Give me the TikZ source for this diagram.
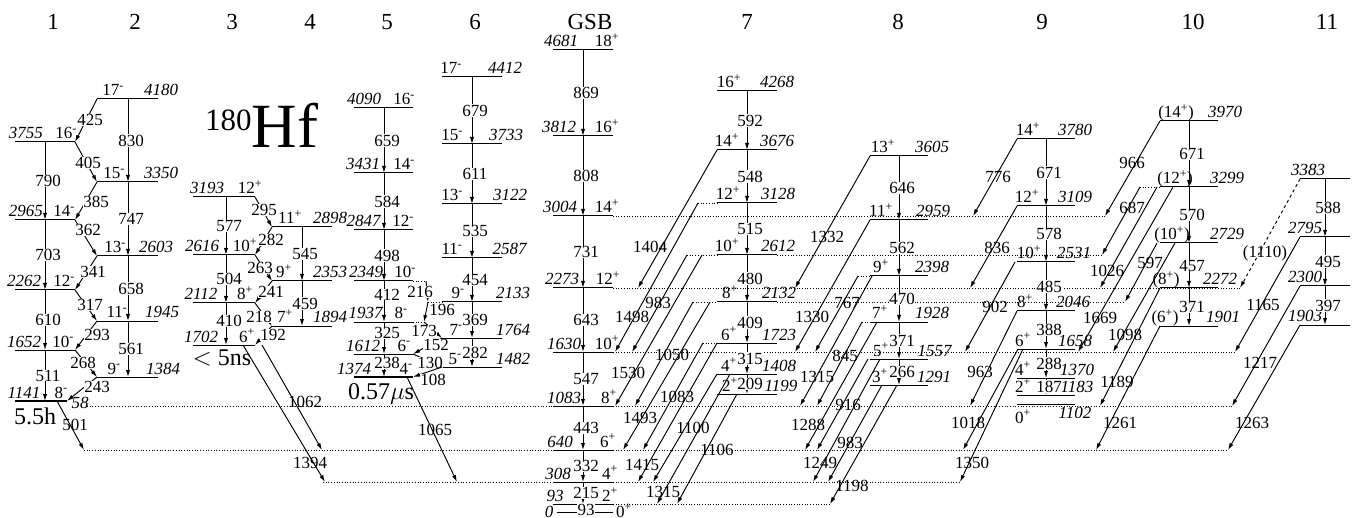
\documentclass[tikz,border=0pt]{standalone}
\usepackage{fontspec}
\setmainfont{Liberation Serif}
\usetikzlibrary{arrows.meta}

\newcommand{\Ei}[1]{\textit{#1}}
\newcommand{\Jp}[1]{#1\textsuperscript{+}}
\newcommand{\Jm}[1]{#1\textsuperscript{-}}

\tikzset{
  lev/.style     = {line width=1pt},
  isolev/.style  = {line width=2.8pt},
  ext/.style     = {dotted, line width=0.7pt},
  gam/.style     = {-{Latex[length=7pt,width=4.2pt]}, line width=0.95pt},
  lvlab/.style   = {font=\fontsize{17}{17}\selectfont, inner sep=0pt, anchor=base},
  glab/.style    = {font=\fontsize{17}{17}\selectfont, inner sep=0.3pt, fill=white},
  dlab/.style    = {font=\fontsize{17}{17}\selectfont, inner sep=0pt},
  colhead/.style = {font=\fontsize{23}{23}\selectfont, inner sep=0pt},
  life/.style    = {font=\fontsize{24}{24}\selectfont, inner sep=0pt},
}

\begin{document}
\begin{tikzpicture}[x=1pt, y=-1pt]
\useasboundingbox (0,0) rectangle (1356,518);

% axes of the bands
\foreach \c/\x in {xA/45, xB/128, xC/226, xD/302, xE/384, xF/472,
                   xG/583, xH/747, xK/899, xM/1046, xN/1189, xP/1325}
  \coordinate (\c) at (\x,0);

% column headings
\foreach \t/\x in {1/53, 2/135, 3/232, 4/310, 5/387, 6/475, GSB/590,
                   7/747, 8/898, 9/1042, 10/1193, 11/1327}
  \node[colhead] (col\t) at (\x,22) {\t};

\node[anchor=base west, inner sep=0pt] (nucl) at (205,148)
  {\raisebox{17pt}{\fontsize{31}{31}\selectfont 180}\fontsize{63}{63}\selectfont Hf};

% levels
\foreach \n/\xa/\xb/\y/\lx/\lt/\rx/\rt in {
  a16/15/75/142/26/{\Ei{3755}}/66/{\Jm{16}},
  a14/15/75/220/26/{\Ei{2965}}/64/{\Jm{14}},
  a12/15/75/290/24/{\Ei{2262}}/64/{\Jm{12}},
  a10/15/75/350/24/{\Ei{1652}}/63/{\Jm{10}},
  b17/97/158/99/113/{\Jm{17}}/161/{\Ei{4180}},
  b15/97/158/182/114/{\Jm{15}}/161/{\Ei{3350}},
  b13/97/158/256/115/{\Jm{13}}/156/{\Ei{2603}},
  b11/97/158/321/117/{\Jm{11}}/162/{\Ei{1945}},
  b9/97/158/377/114/{\Jm{9}}/163/{\Ei{1384}},
  c12/193/255/197/207/{\Ei{3193}}/250/{\Jp{12}},
  c10/193/255/255/202/{\Ei{2616}}/245/{\Jp{10}},
  c8/193/255/303/201/{\Ei{2112}}/245/{\Jp{8}},
  c6/193/255/345/201/{\Ei{1702}}/247/{\Jp{6}},
  d11/272/332/227/290/{\Jp{11}}/330/{\Ei{2898}},
  d9/272/332/281/284/{\Jp{9}}/330/{\Ei{2353}},
  d7/272/332/326/285/{\Jp{7}}/330/{\Ei{1894}},
  e16/354/413/108/364/{\Ei{4090}}/404/{\Jm{16}},
  e14/354/413/173/363/{\Ei{3431}}/404/{\Jm{14}},
  e12/354/413/230/364/{\Ei{2847}}/403/{\Jm{12}},
  e10/354/413/281/366/{\Ei{2349}}/405/{\Jm{10}},
  e8/354/413/322/366/{\Ei{1937}}/401/{\Jm{8}},
  e6/354/413/354/363/{\Ei{1612}}/404/{\Jm{6}},
  f17/442/502/77/451/{\Jm{17}}/505/{\Ei{4412}},
  f15/442/502/144/452/{\Jm{15}}/506/{\Ei{3733}},
  f13/442/502/204/452/{\Jm{13}}/510/{\Ei{3122}},
  f11/442/502/258/452/{\Jm{11}}/510/{\Ei{2587}},
  f9/442/502/302/458/{\Jm{9}}/513/{\Ei{2133}},
  f7/442/502/338/456/{\Jm{7}}/513/{\Ei{1764}},
  f5/442/502/367/455/{\Jm{5}}/513/{\Ei{1482}},
  g18/553/613/50/561/{\Ei{4681}}/607/{\Jp{18}},
  g16/553/613/136/559/{\Ei{3812}}/607/{\Jp{16}},
  g14/553/613/216/560/{\Ei{3004}}/607/{\Jp{14}},
  g12/553/613/288/562/{\Ei{2273}}/608/{\Jp{12}},
  g10/553/613/352/564/{\Ei{1630}}/607/{\Jp{10}},
  g8/553/613/406/564/{\Ei{1083}}/609/{\Jp{8}},
  g6/553/613/450/560/{\Ei{640}}/608/{\Jp{6}},
  g4/553/613/482/558/{\Ei{308}}/610/{\Jp{4}},
  g2/553/613/504/555/{\Ei{93}}/610/{\Jp{2}},
  h16/717/777/91/729/{\Jp{16}}/777/{\Ei{4268}},
  h14/717/777/150/727/{\Jp{14}}/777/{\Ei{3676}},
  h12/717/777/203/728/{\Jp{12}}/778/{\Ei{3128}},
  h10/717/777/255/727/{\Jp{10}}/778/{\Ei{2612}},
  h8/717/777/302/730/{\Jp{8}}/779/{\Ei{2132}},
  h6/717/777/343/729/{\Jp{6}}/779/{\Ei{1723}},
  h4/717/777/374/729/{\Jp{4}}/779/{\Ei{1408}},
  h2/717/777/394/730/{\Jp{2}}/781/{\Ei{1199}},
  k13/870/928/156/883/{\Jp{13}}/932/{\Ei{3605}},
  k11/870/928/220/881/{\Jp{11}}/933/{\Ei{2959}},
  k9/870/928/276/881/{\Jp{9}}/932/{\Ei{2398}},
  k7/870/928/322/880/{\Jp{7}}/932/{\Ei{1928}},
  k5/870/928/359/881/{\Jp{5}}/935/{\Ei{1557}},
  k3/870/928/385/880/{\Jp{3}}/934/{\Ei{1291}},
  m14/1017/1075/139/1028/{\Jp{14}}/1075/{\Ei{3780}},
  m12/1017/1075/206/1027/{\Jp{12}}/1075/{\Ei{3109}},
  m10/1017/1075/262/1029/{\Jp{10}}/1074/{\Ei{2531}},
  m8/1017/1075/311/1025/{\Jp{8}}/1073/{\Ei{2046}},
  m6/1017/1075/349/1023/{\Jp{6}}/1075/{\Ei{1658}},
  m4/1017/1075/378/1023/{\Jp{4}}/1077/{\Ei{1370}},
  m2/1017/1075/395/1023/{\Jp{2}}/1077/{\Ei{1183}},
  n14/1160/1218/121/1176/{(\Jp{14})}/1225/{\Ei{3970}},
  n12/1160/1218/187/1175/{(\Jp{12})}/1227/{\Ei{3299}},
  n10/1160/1218/243/1172/{(\Jp{10})}/1227/{\Ei{2729}},
  n8/1160/1218/288/1166/{(\Jp{8})}/1220/{\Ei{2272}},
  n6/1160/1218/326/1165/{(\Jp{6})}/1223/{\Ei{1901}},
  p4/1300/1350/179/1308/{\Ei{3383}}/1340/{},
  p3/1300/1350/237/1305/{\Ei{2795}}/1340/{},
  p2/1300/1350/286/1305/{\Ei{2300}}/1340/{},
  p1/1300/1350/325/1305/{\Ei{1903}}/1340/{}}{
  \draw[lev] (\xa,\y) coordinate (\n) -- (\xb,\y);
  \node[lvlab] (l\n) at (\lx,\y-3) {\lt};
  \node[lvlab] (r\n) at (\rx,\y-3) {\rt};
}

% isomers and ground states
\draw[isolev] (15,401) coordinate (a8) -- (67,401);
\node[lvlab] (la8) at (24,398) {\Ei{1141}};
\node[lvlab] (ra8) at (61,398) {\Jm{8}};
\node[life] (t55h) at (35,416) {5.5h};
\node[lvlab, font=\fontsize{17}{17}\selectfont\itshape, anchor=center] (l58) at (80,403) {58};
\node[life] (t5ns) at (222,358) {$<$ 5ns};
\draw[isolev] (354,377) coordinate (e4) -- (413,377);
\node[lvlab] (le4) at (354,374) {\Ei{1374}};
\node[lvlab] (re4) at (406,374) {\Jm{4}};
\node[life] (t057) at (381,394) {0.57$\mu$s};
\draw[lev] (557,512) coordinate (g0) -- (613,512);
\node[lvlab] (lg0) at (549,517) {\Ei{0}};
\node[lvlab] (rg0) at (624,517) {\Jp{0}};
\draw[lev] (1017,404) coordinate (m0) -- (1075,404);
\node[lvlab] (lm0) at (1023,423) {\Jp{0}};
\node[lvlab] (rm0) at (1075,418) {\Ei{1102}};

% dotted continuations of levels
\foreach \a/\xa/\xb in {g14/613/1105, g12/613/1240, g10/613/1235,
    g8/87/553, g8/613/1232, g6/84/553, g6/613/1228, g4/323/553,
    g4/613/960, g2/613/830, h12/698/717, h10/687/717, h10/777/1102,
    h8/693/717, h8/777/1125, h6/703/717, k9/858/870, k7/862/870,
    n12/1140/1160, e10/413/426, f9/428/442, e8/413/424}
  \draw[ext] (\a -| \xa,0) -- (\a -| \xb,0);

% in-band transitions
\foreach \c/\a/\b/\g/\p in {
  xA/a16/a14/790/.5, xA/a14/a12/703/.5, xA/a12/a10/610/.5, xA/a10/a8/511/.5,
  xB/b17/b15/830/.5, xB/b15/b13/747/.5, xB/b13/b11/658/.5, xB/b11/b9/561/.5,
  xC/c12/c10/577/.5, xC/c10/c8/504/.5, xC/c8/c6/410/.42,
  xD/d11/d9/545/.5, xD/d9/d7/459/.5,
  xE/e16/e14/659/.5, xE/e14/e12/584/.5, xE/e12/e10/498/.5, xE/e10/e8/412/.33,
  xE/e8/e6/325/.35, xE/e6/e4/238/.4,
  xF/f17/f15/679/.5, xF/f15/f13/611/.5, xF/f13/f11/535/.5, xF/f11/f9/454/.5,
  xF/f9/f7/369/.5, xF/f7/f5/282/.5,
  xG/g18/g16/869/.5, xG/g16/g14/808/.5, xG/g14/g12/731/.5, xG/g12/g10/643/.5,
  xG/g10/g8/547/.5, xG/g8/g6/443/.5, xG/g6/g4/332/.5, xG/g4/g2/215/.5,
  xH/h16/h14/592/.5, xH/h14/h12/548/.5, xH/h12/h10/515/.5, xH/h10/h8/480/.5,
  xH/h8/h6/409/.5, xH/h6/h4/315/.5, xH/h4/h2/209/.5,
  xK/k13/k11/646/.5, xK/k11/k9/562/.5, xK/k9/k7/470/.5, xK/k7/k5/371/.5,
  xK/k5/k3/266/.5,
  xM/m14/m12/671/.5, xM/m12/m10/578/.5, xM/m10/m8/485/.5, xM/m8/m6/388/.5,
  xM/m6/m4/288/.5, xM/m4/m2/187/.5,
  xN/n14/n12/671/.5, xN/n12/n10/570/.5, xN/n10/n8/457/.5, xN/n8/n6/371/.5,
  xP/p4/p3/588/.5, xP/p3/p2/495/.5, xP/p2/p1/397/.5}
  \draw[gam] (\a -| \c) -- (\b -| \c) node[glab, pos=\p, xshift=3pt] (v\g) {\g};
\draw[gam] (g2 -| xG) -- (g0 -| xG);
\node[glab] (v93) at (586,510) {93};

% transitions between neighbouring bands
\foreach \a/\xa/\b/\xb/\g/\lx/\ly in {
  b17/97/a16/75/425/90/120, a16/75/b15/97/405/88/163,
  b15/97/a14/75/385/96/202, a14/75/b13/97/362/88/230,
  b13/97/a12/75/341/93/272, a12/75/b11/97/317/90/305,
  b11/97/a10/75/293/97/335, a10/75/b9/97/268/83/363,
  b9/97/a8/67/243/97/387,
  c12/255/d11/272/295/264/210, d11/272/c10/255/282/271/240,
  c10/255/d9/272/263/260/268, d9/272/c8/255/241/271/292,
  c8/255/d7/272/218/259/317, d7/272/c6/255/192/273/335,
  e10/426/f9/428/216/420/292, f9/428/e8/424/196/442/310,
  e8/424/f7/442/173/424/331, f7/442/e6/413/152/436/345,
  e6/413/f5/442/130/430/363, f5/442/e4/413/108/433/380}{
  \draw[gam] (\a -| \xa,0) -- (\b -| \xb,0);
  \node[glab] (z\g) at (\lx,\ly) {\g};
}

% decays into the ground-state band
\foreach \a/\xa/\b/\xb/\g/\lx/\ly in {
  a8/57/g6/84/501/75/425,
  c6/262/g6/322/1062/305/402, c6/243/g4/325/1394/310/463,
  e4/407/g4/457/1065/435/430,
  h14/717/g12/638/1404/650/247, h12/698/g10/615/1498/632/317,
  h10/687/g10/632/983/658/303, h10/702/g8/615/1530/628/373,
  h8/693/g8/635/1050/672/355, h8/710/g6/623/1493/640/418,
  h6/703/g6/643/1083/677/397, h6/717/g4/638/1415/642/465,
  h4/717/g4/653/1100/693/428, h4/730/g2/657/1315/663/492,
  h2/737/g2/677/1106/717/450,
  k13/870/g12/795/1332/827/237, k11/870/g10/795/1330/812/317,
  k9/858/g10/815/767/847/303, k9/872/g8/800/1315/817/377,
  k7/862/g8/817/845/845/356, k7/877/g6/805/1288/808/425,
  k5/868/g6/817/916/848/405, k5/880/g4/813/1249/820/463,
  k3/882/g4/828/983/850/443, k3/897/g2/830/1198/852/486,
  m14/1017/g14/973/776/998/177, m12/1017/g12/970/836/997/248,
  m10/1015/g10/965/902/995/307, m8/1017/g8/970/963/980/372,
  m6/1018/g6/963/1018/968/423, m6/1023/g4/960/1350/972/463,
  n14/1160/g14/1105/966/1132/163, n12/1140/h10/1102/687/1132/208,
  n12/1157/g12/1100/1026/1107/271, n12/1173/g10/1078/1669/1100/318,
  n10/1157/h8/1125/597/1150/263, n10/1175/g10/1113/1098/1125/335,
  n8/1160/g8/1100/1189/1117/382, n6/1160/g6/1096/1261/1120/423,
  p3/1300/g10/1235/1165/1263/305, p2/1300/g8/1232/1217/1260/363,
  p1/1300/g6/1228/1263/1252/423}{
  \draw[gam] (\a -| \xa,0) -- (\b -| \xb,0);
  \node[dlab] (d\g) at (\lx,\ly) {\g};
}
\draw[gam, dashed] (p4 -| 1300,0) -- (g12 -| 1240,0);
\node[dlab] (d1110) at (1265,253) {(1110)};

\end{tikzpicture}
\end{document}
